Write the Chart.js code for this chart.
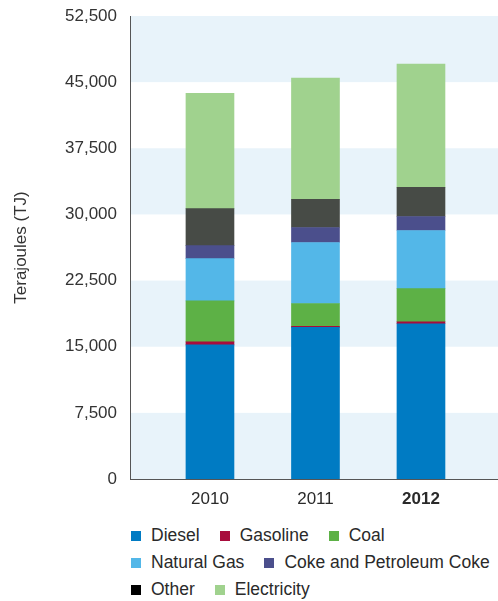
<!DOCTYPE html>
<html>
<head>
<meta charset="utf-8">
<title>Energy use by source</title>
<script src="https://cdn.jsdelivr.net/npm/chart.js@4.4.1/dist/chart.umd.min.js"></script>
<style>
    html, body { margin: 0; padding: 0; background: #fff; }
    #wrap { position: relative; width: 498px; height: 601px; overflow: hidden; }
    #chartBox { position: absolute; left: 0; top: 0; width: 498px; height: 515px; }
    #legend { position: absolute; left: 131px; top: 526px; width: 367px; }
    #legend ul { list-style: none; margin: 0; padding: 0; display: flex; flex-wrap: wrap; column-gap: 20px; row-gap: 8px; }
    #legend li { display: flex; align-items: center; font: 17.5px "Liberation Sans", Arial, sans-serif; color: #2a2a2a; line-height: 19px; white-space: nowrap; }
    #legend .swatch { display: inline-block; width: 10px; height: 10px; margin-right: 10px; }
</style>
</head>
<body>
<div id="wrap">
    <div id="chartBox"><canvas id="energyChart"></canvas></div>
    <div id="legend"></div>
</div>
<script>
// Years and consumption by source, in terajoules
const years = [2010, 2011, 2012];
const diesel = [15200, 17200, 17600];
const gasoline = [350, 120, 230];
const coal = [4650, 2580, 3750];
const naturalGas = [4780, 6920, 6600];
const coke = [1480, 1700, 1590];
const other = [4200, 3180, 3300];
const electricity = [13070, 13750, 13980];

const yTicks = [0, 7500, 15000, 22500, 30000, 37500, 45000, 52500];

const FONT = '"Liberation Sans", Arial, sans-serif';
Chart.defaults.font.family = FONT;
Chart.defaults.font.size = 17;
Chart.defaults.color = '#333';

// Alternating light blue bands behind the bars
const bandPlugin = {
    id: 'bands',
    beforeDraw(chart) {
        const { ctx, chartArea, scales } = chart;
        ctx.save();
        ctx.fillStyle = '#E8F3FA';
        for (let i = 0; i < yTicks.length - 1; i += 2) {
            const top = scales.y.getPixelForValue(yTicks[i + 1]);
            const bottom = scales.y.getPixelForValue(yTicks[i]);
            ctx.fillRect(chartArea.left, top, chartArea.right - chartArea.left, bottom - top);
        }
        ctx.restore();
    }
};

// Legend rendered as HTML below the canvas
const htmlLegend = {
    id: 'htmlLegend',
    afterUpdate(chart) {
        const box = document.getElementById('legend');
        const items = chart.options.plugins.legend.labels.generateLabels(chart);
        const ul = document.createElement('ul');
        items.forEach(item => {
            const li = document.createElement('li');
            const sw = document.createElement('span');
            sw.className = 'swatch';
            sw.style.background = item.fillStyle;
            li.appendChild(sw);
            li.appendChild(document.createTextNode(item.text));
            ul.appendChild(li);
        });
        box.innerHTML = '';
        box.appendChild(ul);
    }
};

function makeDataset(label, data, color, legendColor) {
    return { label, data, backgroundColor: color, legendColor: legendColor || color, borderWidth: 0 };
}

new Chart(document.getElementById('energyChart'), {
    type: 'bar',
    data: {
        labels: years,
        datasets: [
            makeDataset('Diesel', diesel, '#007BC3'),
            makeDataset('Gasoline', gasoline, '#A80C3C'),
            makeDataset('Coal', coal, '#5DB146'),
            makeDataset('Natural Gas', naturalGas, '#53B7E8'),
            makeDataset('Coke and Petroleum Coke', coke, '#4B4F8C'),
            makeDataset('Other', other, '#474B46', '#000000'),
            makeDataset('Electricity', electricity, '#A0D28E')
        ]
    },
    options: {
        responsive: true,
        maintainAspectRatio: false,
        animation: false,
        barThickness: 48,
        layout: { padding: { top: 16, left: 0, right: 0, bottom: 0 } },
        plugins: {
            legend: {
                display: false,
                labels: {
                    generateLabels: chart => chart.data.datasets.map(ds => ({
                        text: ds.label,
                        fillStyle: ds.legendColor
                    }))
                }
            },
            tooltip: { enabled: false }
        },
        scales: {
            x: {
                type: 'linear',
                stacked: true,
                offset: false,
                min: 2009.242,
                max: 2012.73,
                grid: { display: false, drawTicks: false, offset: false },
                border: { color: '#555', width: 1 },
                afterBuildTicks: scale => { scale.ticks = years.map(v => ({ value: v })); },
                afterFit: scale => { scale.height = 36; },
                ticks: {
                    autoSkip: false,
                    maxRotation: 0,
                    padding: 10,
                    color: '#2a2a2a',
                    callback: value => String(value),
                    font: ctx => ctx.tick && ctx.tick.value === 2012
                        ? { size: 17, weight: 'bold', family: FONT }
                        : { size: 17, family: FONT }
                }
            },
            y: {
                stacked: true,
                min: 0,
                max: 52500,
                grid: { display: false, drawTicks: false },
                border: { color: '#555', width: 1 },
                afterBuildTicks: scale => { scale.ticks = yTicks.map(v => ({ value: v })); },
                afterFit: scale => {
                    scale.width = 130;
                    scale.paddingTop = 0;
                    scale.paddingBottom = 0;
                },
                ticks: {
                    padding: 13,
                    color: '#333',
                    callback: value => value.toLocaleString('en-US')
                },
                title: {
                    display: true,
                    text: 'Terajoules (TJ)',
                    color: '#333',
                    font: { size: 17 },
                    padding: { top: 11, bottom: 0 }
                }
            }
        }
    },
    plugins: [bandPlugin, htmlLegend]
});
</script>
</body>
</html>
